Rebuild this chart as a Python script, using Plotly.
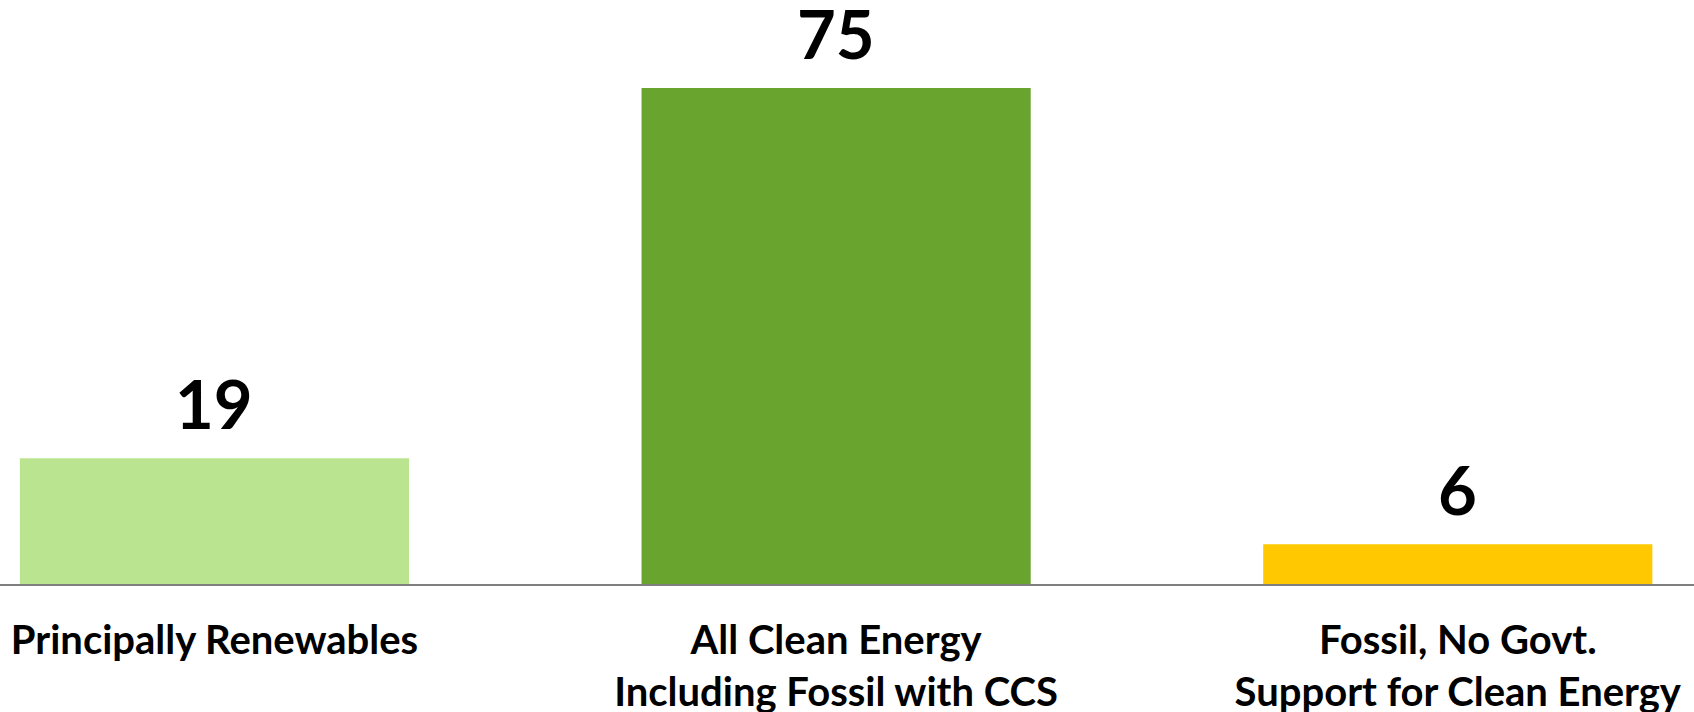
import plotly.graph_objects as go

categories = [
    "Principally Renewables",
    "All Clean Energy<br>Including Fossil with CCS",
    "Fossil, No Govt.<br>Support for Clean Energy",
]
values = [19, 75, 6]
bar_colors = ["#BAE48F", "#68A42E", "#FFC800"]

FONT = "Lato, 'Open Sans', sans-serif"

fig = go.Figure(
    go.Bar(
        x=categories,
        y=values,
        marker=dict(color=bar_colors, line=dict(width=0)),
        hoverinfo="skip",
    )
)

# value labels above each bar
for cat, val in zip(categories, values):
    fig.add_annotation(
        x=cat, y=val, text=f"<b>{val}</b>", showarrow=False,
        yanchor="bottom", yshift=13,
        font=dict(family=FONT, size=67, color="#000000"),
    )

fig.update_layout(
    width=1694, height=712,
    margin=dict(l=0, r=0, t=0, b=128, autoexpand=False),
    paper_bgcolor="white", plot_bgcolor="white",
    bargap=0.374,
    showlegend=False,
    xaxis=dict(
        range=[-0.345, 2.380],
        automargin=False,
        showline=True, linecolor="#7F7F7F", linewidth=2,
        showgrid=False, zeroline=False,
        ticks="outside", ticklen=20, tickcolor="rgba(0,0,0,0)",
        tickfont=dict(family=FONT, size=40, color="#000000", weight="bold"),
    ),
    yaxis=dict(
        range=[0, 88.3], visible=False, showgrid=False, zeroline=False,
    ),
)

fig.write_html("out.html")
